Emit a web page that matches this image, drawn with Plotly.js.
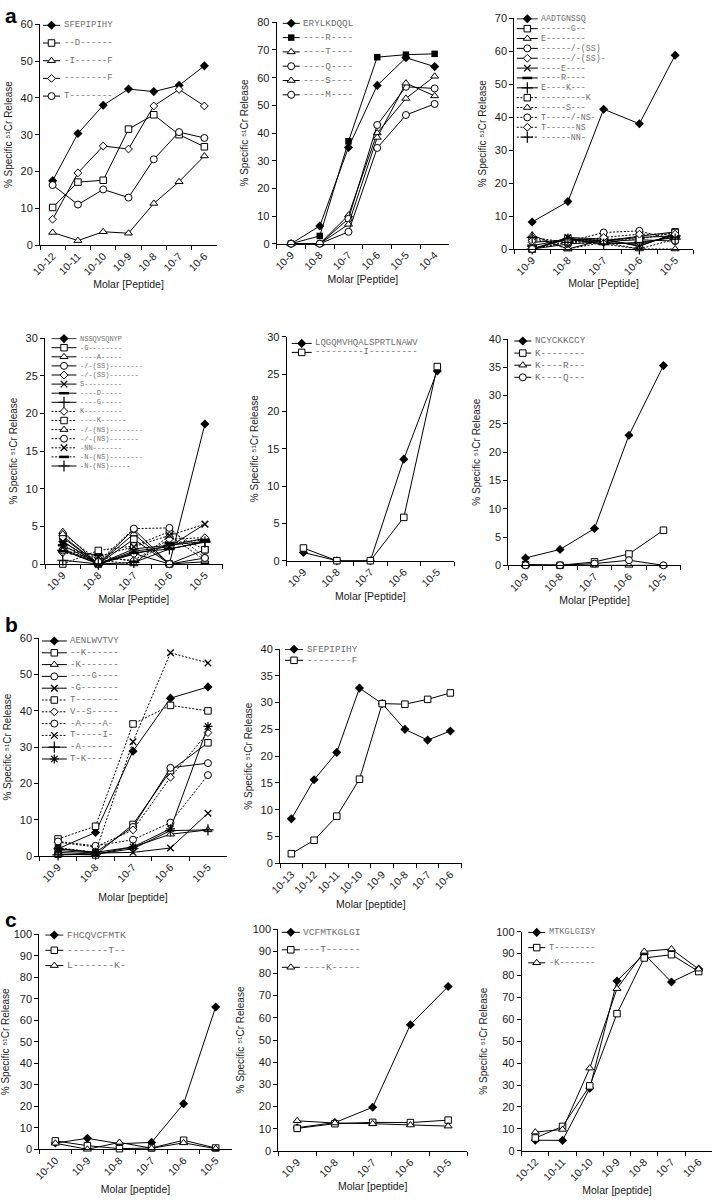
<!DOCTYPE html>
<html>
<head>
<meta charset="utf-8">
<script src="https://cdn.plot.ly/plotly-3.0.1.min.js"></script>
<style>
html,body{margin:0;padding:0;background:#fff}
#fig{width:714px;height:1200px}
</style>
</head>
<body>
<div id="fig"></div>
<script>
// ---- a, top row
var a1Doses = ["10-12","10-11","10-10","10-9","10-8","10-7","10-6"];
var a1Peptides = ["SFEPIPIHY","--D------","-I------F","--------F","T--------"];
var a1Release = [
  [17.5,30.3,38.0,42.4,41.7,43.4,48.7],
  [10.2,17.1,17.6,31.5,35.4,30.0,26.7],
  [3.4,1.2,3.6,3.2,11.3,17.2,24.2],
  [7.0,19.6,26.9,26.1,37.8,42.3,37.8],
  [16.3,11.0,15.1,12.9,23.3,30.7,29.1]
];
var a1Marks = ["fd","sq","tr","di","ci"];
var a1Dotted = [0,0,0,0,0];

var a2Doses = ["10-9","10-8","10-7","10-6","10-5","10-4"];
var a2Peptides = ["ERYLKDQQL","----R----","----T----","----Q----","----S----","----M----"];
var a2Release = [
  [0,6.4,34.8,57.2,67.2,64.0],
  [0,2.8,37.0,67.4,68.3,68.6],
  [0,0,10.3,40.0,52.5,60.5],
  [0,0,9.0,42.9,56.7,56.1],
  [0,0,7.0,38.4,58.0,53.4],
  [0,0,4.3,34.6,46.5,50.5]
];
var a2Marks = ["fd","fs","tr","ci","tr","ci"];
var a2Dotted = [0,0,0,0,0,0];

var a3Doses = ["10-9","10-8","10-7","10-6","10-5"];
var a3Peptides = ["AADTGNSSQ","------G--","E--------","------/-(SS)","------/-(SS)-","----E----","----R----","E----K---","---------K","-----S---","T-----/-NS-","T------NS","------NN-"];
var a3Release = [
  [8.2,14.4,42.4,38.0,58.8],
  [0,3.2,2.5,3.8,5.2],
  [4.2,0,2.8,1.0,4.5],
  [0,1.5,2.3,2.8,2.4],
  [2.0,2.8,2.0,1.5,4.0],
  [0,3.5,3.0,0.8,4.8],
  [1.0,3.0,1.5,2.0,3.5],
  [0,3.0,2.5,3.5,4.0],
  [0,2.0,3.0,3.0,5.0],
  [3.5,0,2.0,0,0],
  [0,2.2,5.0,5.5,2.5],
  [2.5,2.0,3.5,4.5,4.5],
  [3.5,2.0,1.5,0,3.0]
];
var a3Marks = ["fd","sq","tr","ci","di","x","ds","pl","sq","tr","ci","di","pl"];
var a3Dotted = [0,0,0,0,0,0,0,0,1,1,1,1,1];

// ---- a, second row
var a4Doses = ["10-9","10-8","10-7","10-6","10-5"];
var a4Peptides = ["NSSQVSQNYP","-G--------","----A-----","-/-(SS)--------","-/-(SS)-------","S---------","----D-----","----G-----","K---------","----K------","-/-(NS)--------","-/-(NS)-------","-NN-------","-N-(NS)--------","-N-(NS)-----"];
var a4Release = [
  [3.0,0,1.4,0,18.6],
  [3.7,0,3.3,0,1.9],
  [4.3,0,4.0,0,0.3],
  [3.5,0,4.6,0,0.8],
  [2.0,0,1.3,2.5,3.4],
  [3.0,0,1.7,2.3,5.3],
  [2.5,0,1.5,2.0,3.0],
  [1.8,0,2.0,2.5,3.0],
  [1.5,0.8,0.5,3.3,3.5],
  [0,1.8,2.4,4.3,1.9],
  [4.0,0.5,0,3.8,0.5],
  [1.8,0.3,4.7,4.8,0.8],
  [2.2,1.0,2.3,3.8,5.3],
  [1.7,1.2,0.3,2.8,3.2],
  [0.5,0,0.2,2.0,2.9]
];
var a4Marks = ["fd","sq","tr","ci","di","x","ds","pl","di","sq","tr","ci","x","ds","pl"];
var a4Dotted = [0,0,0,0,0,0,0,0,1,1,1,1,1,1,0];

var a5Doses = ["10-9","10-8","10-7","10-6","10-5"];
var a5Peptides = ["LQGQMVHQALSPRTLNAWV","---------I---------"];
var a5Release = [
  [1.1,0,0,13.6,25.4],
  [1.7,0,0,5.8,26.0]
];
var a5Marks = ["fd","sq"];
var a5Dotted = [0,0];

var a6Doses = ["10-9","10-8","10-7","10-6","10-5"];
var a6Peptides = ["NCYCKKCCY","K--------","K----R---","K----Q---"];
var a6Release = [
  [1.3,2.8,6.5,23.0,35.3],
  [0.1,0,0.6,2.0,6.2],
  [0.1,0,0,0,0],
  [0,0,0.3,0.9,0]
];
var a6Marks = ["fd","sq","tr","ci"];
var a6Dotted = [0,0,0,0];

// ---- b
var b1Doses = ["10-9","10-8","10-7","10-6","10-5"];
var b1Peptides = ["AENLWVTVY","--K------","-K-------","----G----","-G-------","T--------","V--S-----","-A----A-","T-----I-","-A------","T-K-----"];
var b1Release = [
  [2.0,6.5,28.9,43.5,46.6],
  [0.5,0.3,8.7,23.5,31.2],
  [1.0,0.5,2.5,6.0,7.2],
  [2.0,1.0,8.0,24.3,25.6],
  [1.5,0.8,1.0,2.2,11.8],
  [4.7,8.2,36.4,41.5,40.0],
  [3.8,2.5,7.2,21.7,34.0],
  [4.0,2.8,4.5,9.2,22.3],
  [2.3,1.0,31.5,56.0,53.2],
  [0.3,0.5,2.0,7.0,7.2],
  [2.0,1.0,2.5,7.5,35.7]
];
var b1Marks = ["fd","sq","tr","ci","x","sq","di","ci","x","pl","as"];
var b1Dotted = [0,0,0,0,0,1,1,1,1,0,0];

var b2Doses = ["10-13","10-12","10-11","10-10","10-9","10-8","10-7","10-6"];
var b2Peptides = ["SFEPIPIHY","--------F"];
var b2Release = [
  [8.3,15.6,20.7,32.7,29.8,25.0,23.0,24.7],
  [1.8,4.3,8.8,15.7,29.8,29.7,30.6,31.8]
];
var b2Marks = ["fd","sq"];
var b2Dotted = [0,0];

// ---- c
var c1Doses = ["10-10","10-9","10-8","10-7","10-6","10-5"];
var c1Peptides = ["FHCQVCFMTK","-------T--","L-------K-"];
var c1Release = [
  [2.9,5.1,2.6,3.2,21.2,66.2],
  [3.9,1.7,0.3,0.6,4.2,0.6],
  [2.8,0,3.2,0.5,3.0,0.3]
];
var c1Marks = ["fd","sq","tr"];
var c1Dotted = [0,0,0];

var c2Doses = ["10-9","10-8","10-7","10-6","10-5"];
var c2Peptides = ["VCFMTKGLGI","---T------","----K-----"];
var c2Release = [
  [10.5,12.8,19.7,56.9,74.1],
  [10.2,12.3,12.9,12.8,13.9],
  [13.6,12.6,12.3,11.7,11.2]
];
var c2Marks = ["fd","sq","tr"];
var c2Dotted = [0,0,0];

var c3Doses = ["10-12","10-11","10-10","10-9","10-8","10-7","10-6"];
var c3Peptides = ["MTKGLGISY","T--------","-K-------"];
var c3Release = [
  [4.8,4.7,28.5,77.5,89.7,77.0,83.0],
  [5.8,11.1,29.6,62.6,88.0,89.5,81.8],
  [8.5,9.7,37.7,74.0,91.0,92.1,82.9]
];
var c3Marks = ["fd","sq","tr"];
var c3Dotted = [0,0,0];

// plot boxes in page pixels: [left, right, top, bottom]
// leg = legend x offset, line length, first row, row step, font size (px inside the box)
var panels = [
  {d:a1Doses, n:a1Peptides, v:a1Release, m:a1Marks, dot:a1Dotted, box:[40,217,24.3,245], ymax:60, dtick:10, xt:"Molar [Peptide]", xs:4, leg:[3,17,1,17.7,9]},
  {d:a2Doses, n:a2Peptides, v:a2Release, m:a2Marks, dot:a2Dotted, box:[276.7,449,22.3,243.7], ymax:80, dtick:10, xt:"Molar [Peptide]", xs:4, leg:[6,17,1,14.3,9.3]},
  {d:a3Doses, n:a3Peptides, v:a3Release, m:a3Marks, dot:a3Dotted, box:[514.3,693,18.3,249], ymax:70, dtick:10, xt:"Molar [Peptide]", xs:2, leg:[2.5,21,0.5,9.86,8.3]},
  {d:a4Doses, n:a4Peptides, v:a4Release, m:a4Marks, dot:a4Dotted, box:[45,222.7,338.3,564], ymax:30, dtick:5, xt:"Molar [Peptide]", xs:4, leg:[6.5,25,0.3,9.1,7]},
  {d:a5Doses, n:a5Peptides, v:a5Release, m:a5Marks, dot:a5Dotted, box:[286.7,454,336.7,560.7], ymax:30, dtick:5, xt:"Molar [Peptide]", xs:4, leg:[5,20,6.7,9,9]},
  {d:a6Doses, n:a6Peptides, v:a6Release, m:a6Marks, dot:a6Dotted, box:[508.3,680.7,339,565.3], ymax:40, dtick:5, xt:"Molar [Peptide]", xs:4, leg:[6,17,2,12.1,9.3]},
  {d:b1Doses, n:b1Peptides, v:b1Release, m:b1Marks, dot:b1Dotted, box:[39.3,226.7,638.3,856], ymax:60, dtick:10, xt:"Molar [peptide]", xs:10, leg:[2.5,25,2.7,11.8,9]},
  {d:b2Doses, n:b2Peptides, v:b2Release, m:b2Marks, dot:b2Dotted, box:[280,461.7,649,863.3], ymax:40, dtick:5, xt:"Molar [peptide]", xs:5, leg:[5,18,0.3,11,9.3]},
  {d:c1Doses, n:c1Peptides, v:c1Release, m:c1Marks, dot:c1Dotted, box:[39.3,231.7,934.3,1149.3], ymax:100, dtick:10, xt:"Molar [peptide]", xs:4, leg:[6,18,0.7,15.3,9.8]},
  {d:c2Doses, n:c2Peptides, v:c2Release, m:c2Marks, dot:c2Dotted, box:[278.3,467,929,1151], ymax:100, dtick:10, xt:"Molar [peptide]", xs:4, leg:[3.5,18,3.3,17.5,9.6]},
  {d:c3Doses, n:c3Peptides, v:c3Release, m:c3Marks, dot:c3Dotted, box:[521.7,712.3,931.7,1150.7], ymax:100, dtick:10, xt:"Molar [peptide]", xs:4, leg:[6.5,17,0.7,15.2,8.6]}
];

var W = 714, H = 1200;
var ink = "#1a1a1a";
var dotted = "2px,1.6px";
var marks = {
  fd:{symbol:"diamond", color:"black", size:7, line:{width:0}},
  fs:{symbol:"square", color:"black", size:6.5, line:{width:0}},
  sq:{symbol:"square", color:"white", size:6.5, line:{color:"black",width:1}},
  tr:{symbol:"triangle-up", color:"white", size:7, line:{color:"black",width:1}},
  ci:{symbol:"circle", color:"white", size:7, line:{color:"black",width:1}},
  di:{symbol:"diamond", color:"white", size:6, line:{color:"black",width:1}},
  x:{symbol:"x-thin", color:"black", size:6.5, line:{color:"black",width:1.3}},
  pl:{symbol:"cross-thin", color:"black", size:8, line:{color:"black",width:1.2}},
  as:{symbol:"asterisk", color:"black", size:7.5, line:{color:"black",width:1.2}},
  ds:{symbol:"line-ew", color:"black", size:7, line:{color:"black",width:2.5}}
};
function mk(key, extra) {
  var s = marks[key], o = {symbol:s.symbol, color:s.color, size:s.size, line:{color:s.line.color||"black", width:s.line.width}};
  if (extra) for (var k in extra) o[k] = extra[k];
  return o;
}

var traces = [], layout = {
  width:W, height:H, margin:{l:0,r:0,t:0,b:0},
  paper_bgcolor:"white", plot_bgcolor:"rgba(0,0,0,0)",
  font:{family:"Liberation Sans, Arial, sans-serif", color:ink, size:10},
  showlegend:false, annotations:[]
};
var np = panels.length;

panels.forEach(function(p, i) {
  var k = i + 1, lk = i + 1 + np;
  var xid = k === 1 ? "x" : "x" + k, yid = k === 1 ? "y" : "y" + k;
  var b = p.box;
  var xdom = [b[0]/W, b[1]/W], ydom = [1 - b[3]/H, 1 - b[2]/H];

  layout[k === 1 ? "xaxis" : "xaxis" + k] = {
    domain:xdom, anchor:yid, type:"category", categoryorder:"array", categoryarray:p.d,
    range:[-0.5, p.d.length - 0.5], tickson:"boundaries", ticks:"outside", ticklen:4, tickcolor:"black",
    showline:true, linecolor:"black", linewidth:1, showgrid:false, zeroline:false,
    tickangle:-45, tickfont:{size:10.5, color:ink},
    title:{text:p.xt, font:{size:10.5, color:ink}, standoff:p.xs}
  };
  layout[k === 1 ? "yaxis" : "yaxis" + k] = {
    domain:ydom, anchor:xid, range:[0, p.ymax], dtick:p.dtick, ticks:"outside", ticklen:4, tickcolor:"black",
    showline:true, linecolor:"black", linewidth:1, showgrid:false, zeroline:false,
    tickfont:{size:11, color:ink},
    title:{text:"% Specific \u2075\u00b9Cr Release", font:{size:10, color:ink}, standoff:6}
  };
  // pixel-unit axes over the same box, used only for the legend
  var bw = b[1] - b[0], bh = b[3] - b[2];
  layout["xaxis" + lk] = {domain:xdom, anchor:"y" + lk, range:[0, bw], visible:false, fixedrange:true};
  layout["yaxis" + lk] = {domain:ydom, anchor:"x" + lk, range:[bh, 0], visible:false, fixedrange:true};

  p.v.forEach(function(vals, j) {
    traces.push({
      type:"scatter", mode:"lines+markers", x:p.d, y:vals, xaxis:xid, yaxis:yid,
      name:p.n[j], cliponaxis:false, hoverinfo:"x+y+name",
      line:{color:"black", width:1, dash:p.dot[j] ? dotted : "solid"},
      marker:mk(p.m[j])
    });
  });

  var L = p.leg;
  p.n.forEach(function(name, j) {
    var yy = L[2] + j * L[3];
    traces.push({
      type:"scatter", mode:"lines+markers", xaxis:"x" + lk, yaxis:"y" + lk,
      x:[L[0], L[0] + L[1]/2, L[0] + L[1]], y:[yy, yy, yy],
      cliponaxis:false, hoverinfo:"skip",
      line:{color:"black", width:1, dash:p.dot[j] ? dotted : "solid"},
      marker:mk(p.m[j], {opacity:[0, 1, 0]})
    });
    layout.annotations.push({
      text:name, xref:"x" + lk, yref:"y" + lk, x:L[0] + L[1] + 1.5, y:yy,
      xanchor:"left", yanchor:"middle", showarrow:false,
      font:{family:"Liberation Mono, Courier New, monospace", size:L[4], color:"#6f6f6f"}
    });
  });
});

[["a", 3, 2], ["b", 3, 611], ["c", 3, 906]].forEach(function(t) {
  layout.annotations.push({text:"<b>" + t[0] + "</b>", xref:"paper", yref:"paper", x:t[1]/W, y:1 - t[2]/H,
    xanchor:"left", yanchor:"top", showarrow:false, font:{size:21, color:"black", family:"Liberation Sans, Arial, sans-serif"}});
});

Plotly.newPlot("fig", traces, layout, {displayModeBar:false, staticPlot:true});
</script>
</body>
</html>
